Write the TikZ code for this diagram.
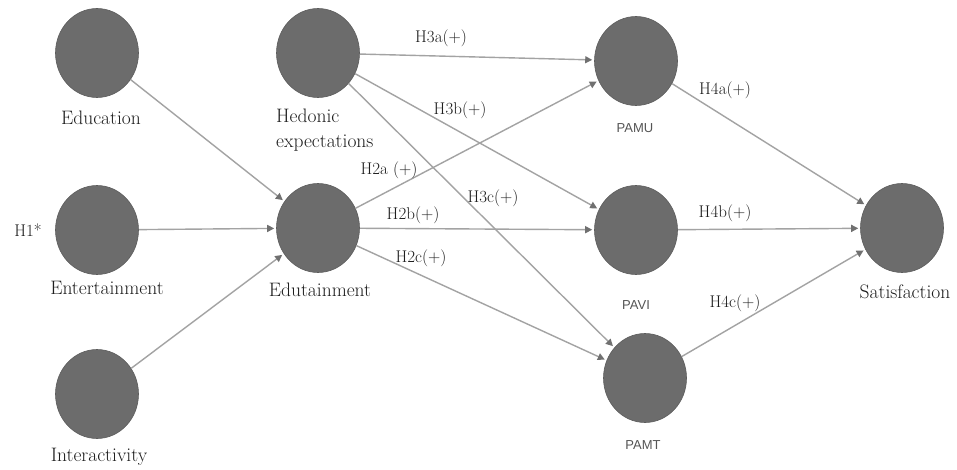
\documentclass[tikz,border=0pt]{standalone}
\usepackage{fontspec}
\newfontfamily\pamfont{Liberation Sans}
\usetikzlibrary{arrows.meta,shapes.geometric}
\definecolor{cfill}{HTML}{6C6C6C}
\definecolor{cline}{HTML}{A3A3A3}
\definecolor{ctip}{HTML}{707070}
\definecolor{ctext}{HTML}{1E1E1E}
\definecolor{ptext}{HTML}{555555}
\begin{document}
\begin{tikzpicture}[x=1pt,y=-1pt,
  latent/.style={ellipse,fill=cfill,draw=cfill!85!black,line width=0.6pt,minimum width=83pt,minimum height=89pt,inner sep=0pt},
  lbl/.style={text=ctext,font=\rmfamily\fontsize{19.5}{25}\selectfont,inner sep=0pt},
  hyp/.style={text=ctext,font=\rmfamily\fontsize{17}{20}\selectfont,inner sep=0pt},
  pam/.style={text=ptext,font=\pamfont\fontsize{13}{15}\selectfont,inner sep=0pt},
  path/.style={draw=cline,line width=1.4pt,-{Triangle[length=7pt,width=7pt,color=ctip]},shorten >=2pt}
]
\useasboundingbox (0,0) rectangle (957,470);
\fill[white] (0,0) rectangle (957,470);

% latent variables
\node[latent] (edu) at (97,53) {};
\node[latent] (ent) at (97,230) {};
\node[latent] (int) at (97,394) {};
\node[latent] (hed) at (318,53) {};
\node[latent] (edt) at (318,228) {};
\node[latent] (pamu) at (636,61) {};
\node[latent] (pavi) at (636,230) {};
\node[latent] (pamt) at (645,378) {};
\node[latent] (sat) at (902,228) {};

% names
\node[lbl] (tEdu) at (101,118) {Education};
\node[lbl] (tEnt) at (107,288) {Entertainment};
\node[lbl] (tInt) at (99,457) {Interactivity};
\node[lbl,anchor=west,align=left] (tHed) at (276,130) {Hedonic\\expectations};
\node[lbl] (tEdt) at (320,290) {Edutainment};
\node[lbl] (tSat) at (905,292) {Satisfaction};
\node[pam] (tPamu) at (635,128) {PAMU};
\node[pam] (tPavi) at (636,305) {PAVI};
\node[pam] (tPamt) at (643,445) {PAMT};
\node[hyp] (tH1) at (28,230) {H1*};

% connectors
\draw[path] (edu) -- (edt);
\draw[path] (ent) -- (edt);
\draw[path] (int) -- (edt);
\draw[path] (hed) -- (pamu);
\draw[path] (hed) -- (pavi);
\draw[path] (hed) -- (pamt);
\draw[path] (edt) -- (pamu);
\draw[path] (edt) -- (pavi);
\draw[path] (edt) -- (pamt);
\draw[path] (pamu) -- (sat);
\draw[path] (pavi) -- (sat);
\draw[path] (pamt) -- (sat);

% hypothesis labels
\node[hyp] (h3a) at (441,38) {H3a(+)};
\node[hyp] (h3b) at (460,110) {H3b(+)};
\node[hyp] (h2a) at (389,170) {H2a (+)};
\node[hyp] (h3c) at (493,198) {H3c(+)};
\node[hyp] (h2b) at (413,215) {H2b(+)};
\node[hyp] (h2c) at (421,258) {H2c(+)};
\node[hyp] (h4a) at (725,90) {H4a(+)};
\node[hyp] (h4b) at (725,213) {H4b(+)};
\node[hyp] (h4c) at (735,303) {H4c(+)};
\end{tikzpicture}
\end{document}
